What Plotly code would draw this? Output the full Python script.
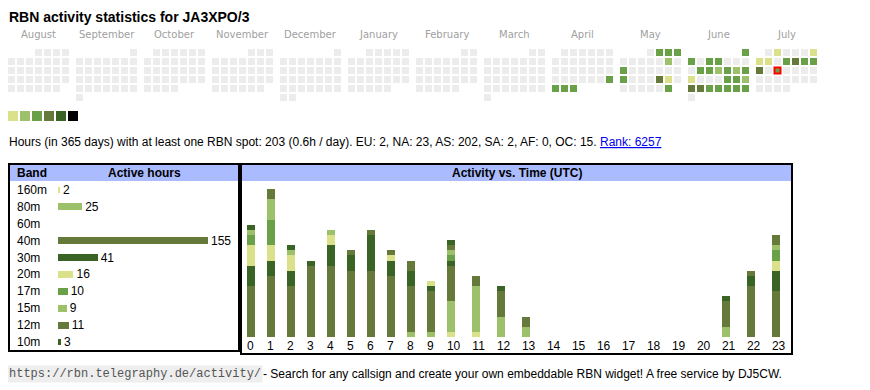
import datetime as dt
import plotly.graph_objects as go

W, H = 870, 390
OFF = 8  # page body margin in the browser

title = "RBN activity statistics for JA3XPO/3"
months = ["August", "September", "October", "November", "December", "January",
          "February", "March", "April", "May", "June", "July"]
first_month = dt.date(2024, 8, 1)
today = dt.date(2025, 7, 16)

palette = ["#dbe18b", "#9dc16a", "#69a048", "#657a3a", "#3a6426", "#000000"]
empty_color = "#ececec"

active_dates = ["2025-04-27", "2025-04-28", "2025-04-29", "2025-04-30",
                "2025-05-02", "2025-05-03", "2025-05-04", "2025-05-10", "2025-05-12",
                "2025-05-19", "2025-05-23", "2025-05-24", "2025-05-31",
                "2025-06-01", "2025-06-02", "2025-06-04", "2025-06-05", "2025-06-10",
                "2025-06-11", "2025-06-12", "2025-06-13", "2025-06-14", "2025-06-15",
                "2025-06-16", "2025-06-20", "2025-06-21", "2025-06-22", "2025-06-23",
                "2025-06-24", "2025-06-25", "2025-06-26", "2025-06-27", "2025-06-28",
                "2025-06-29",
                "2025-07-02", "2025-07-06", "2025-07-07", "2025-07-08", "2025-07-10",
                "2025-07-11", "2025-07-12", "2025-07-13", "2025-07-14", "2025-07-16"]
active_levels = [2, 2, 2, 2,
                 2, 2, 2, 1, 2,
                 2, 3, 0, 2,
                 2, 2, 2, 2, 2,
                 2, 1, 2, 1, 2,
                 0, 2, 2, 1, 3,
                 3, 2, 2, 2, 2,
                 2,
                 0, 0, 0, 0, 2,
                 3, 2, 2, 3, 2]

summary = ("Hours (in 365 days) with at least one RBN spot: 203 (0.6h / day). "
           "EU: 2, NA: 23, AS: 202, SA: 2, AF: 0, OC: 15. ")
rank_text = "Rank: 6257"

bands = ["160m", "80m", "60m", "40m", "30m", "20m", "17m", "15m", "12m", "10m"]
band_hours = [2, 25, 0, 155, 41, 16, 10, 9, 11, 3]
band_colors = [palette[0], palette[1], palette[2], palette[3], palette[4],
               palette[0], palette[2], palette[1], palette[3], palette[4]]

hour_labels = [str(h) for h in range(24)]
act_160m = [0, 0, 0, 0, 0, 0, 0, 0, 0, 0, 1, 1, 0, 0, 0, 0, 0, 0, 0, 0, 0, 0, 0, 0]
act_80m = [0, 0, 0, 0, 0, 0, 0, 0, 1, 1, 6, 9, 4, 2, 0, 0, 0, 0, 0, 0, 0, 2, 0, 0]
act_60m = [0] * 24
act_40m = [10, 12, 10, 14, 14, 13, 13, 12, 9, 8, 7, 2, 5, 2, 0, 0, 0, 0, 0, 0, 0, 5, 10, 9]
act_30m = [4, 3, 3, 1, 4, 3, 7, 3, 3, 1, 1, 0, 1, 0, 0, 0, 0, 0, 0, 0, 0, 1, 2, 4]
act_20m = [4, 3, 3, 0, 2, 0, 0, 1, 0, 1, 0, 0, 0, 0, 0, 0, 0, 0, 0, 0, 0, 0, 0, 2]
act_17m = [2, 5, 0, 0, 0, 0, 0, 0, 0, 0, 1, 0, 0, 0, 0, 0, 0, 0, 0, 0, 0, 0, 0, 2]
act_15m = [1, 4, 1, 0, 1, 0, 0, 0, 0, 0, 1, 0, 0, 0, 0, 0, 0, 0, 0, 0, 0, 0, 0, 1]
act_12m = [0, 2, 0, 0, 0, 1, 1, 1, 2, 0, 1, 0, 0, 0, 0, 0, 0, 0, 0, 0, 0, 0, 1, 2]
act_10m = [1, 0, 1, 0, 0, 0, 0, 0, 0, 0, 1, 0, 0, 0, 0, 0, 0, 0, 0, 0, 0, 0, 0, 0]
activity = [act_160m, act_80m, act_60m, act_40m, act_30m,
            act_20m, act_17m, act_15m, act_12m, act_10m]

footer_url = "https://rbn.telegraphy.de/activity/"
footer_text = "- Search for any callsign and create your own embeddable RBN widget! A free service by DJ5CW."

SANS = "Liberation Sans, Arial, sans-serif"


def fx(px):
    return (px - OFF) / W


def fy(py):
    return 1 - (py - OFF) / H


fig = go.Figure()

# ---------------- calendar (pixel axis x/y, page pixel coordinates) ----------------
CELL = 9
BLOCK = 68
X0, Y0 = 11.5, 52.5


def month_start(i):
    y = first_month.year + (first_month.month - 1 + i) // 12
    m = (first_month.month - 1 + i) % 12 + 1
    return dt.date(y, m, 1)


def cell_pos(d):
    for i in range(12):
        ms = month_start(i)
        if ms.year == d.year and ms.month == d.month:
            idx = ms.weekday() + d.day - 1
            return X0 + i * BLOCK + (idx % 7) * CELL, Y0 + (idx // 7) * CELL
    return None


all_x, all_y = [], []
for i in range(12):
    ms = month_start(i)
    nxt = month_start(i + 1)
    d = ms
    while d < nxt:
        x, y = cell_pos(d)
        all_x.append(x)
        all_y.append(y)
        d += dt.timedelta(days=1)

fig.add_trace(go.Scatter(x=all_x, y=all_y, mode="markers", xaxis="x", yaxis="y",
                         marker=dict(symbol="square", size=7, color=empty_color, line=dict(width=0)),
                         hoverinfo="skip", showlegend=False))

ax, ay, ac = [], [], []
for ds, lv in zip(active_dates, active_levels):
    d = dt.date.fromisoformat(ds)
    if d == today:
        continue
    x, y = cell_pos(d)
    ax.append(x)
    ay.append(y)
    ac.append(palette[lv])
fig.add_trace(go.Scatter(x=ax, y=ay, mode="markers", xaxis="x", yaxis="y",
                         marker=dict(symbol="square", size=7, color=ac, line=dict(width=0)),
                         hoverinfo="skip", showlegend=False))

tx, ty = cell_pos(today)
today_level = active_levels[active_dates.index(today.isoformat())]
fig.add_trace(go.Scatter(x=[tx], y=[ty], mode="markers", xaxis="x", yaxis="y",
                         marker=dict(symbol="square", size=6, color=palette[today_level],
                                     line=dict(width=2, color="#ff0000")),
                         hoverinfo="skip", showlegend=False))

# legend swatches
fig.add_trace(go.Scatter(x=[13 + 12 * k for k in range(len(palette))], y=[116] * len(palette),
                         mode="markers", xaxis="x", yaxis="y",
                         marker=dict(symbol="square", size=10, color=palette, line=dict(width=0)),
                         hoverinfo="skip", showlegend=False))

annotations = []


def page_text(x, y, text, size, color="#000", family=SANS, xanchor="left", **kw):
    annotations.append(dict(x=fx(x), y=fy(y), xref="paper", yref="paper", text=text,
                            showarrow=False, xanchor=xanchor, yanchor="middle",
                            font=dict(family=family, size=size, color=color), **kw))


page_text(6.5, 16.5, "<b>" + title + "</b>", 14)
for i, m in enumerate(months):
    page_text(X0 + i * BLOCK + 3 * CELL, 35, m, 10, color="#a0a0a0",
              family="DejaVu Sans, sans-serif", xanchor="center")

page_text(6.5, 142, summary + "<a href='https://rbn.telegraphy.de/activity/'>"
          "<span style='color:#0000ee'><u>" + rank_text + "</u></span></a>", 12)

# footer
page_text(7, 374, footer_url, 12, color="#555", family="Liberation Mono, monospace",
          bgcolor="#eeeeee", borderpad=1)
page_text(261, 374, footer_text, 12)

# ---------------- panels ----------------
shapes = []
shapes.append(dict(type="rect", xref="x", yref="y", x0=10, x1=238, y0=165, y1=181,
                   fillcolor="#aabbff", line=dict(width=0), layer="below"))
shapes.append(dict(type="rect", xref="x", yref="y", x0=242, x1=791, y0=165, y1=181,
                   fillcolor="#aabbff", line=dict(width=0), layer="below"))
shapes.append(dict(type="rect", xref="x", yref="y", x0=9, x1=239, y0=164, y1=351,
                   fillcolor="rgba(0,0,0,0)", line=dict(width=2, color="#000")))
shapes.append(dict(type="rect", xref="x", yref="y", x0=241, x1=792, y0=164, y1=354,
                   fillcolor="rgba(0,0,0,0)", line=dict(width=2, color="#000")))

page_text(15, 173, "<b>Band</b>", 12)
page_text(144.5, 173, "<b>Active hours</b>", 12, xanchor="center")
page_text(516.5, 173, "<b>Activity vs. Time (UTC)</b>", 12, xanchor="center")

# ---------------- band bars (x2/y2) ----------------
PX_PER_HOUR = 150 / max(band_hours)
BAR_X0, BAR_X1 = 58, 238
fig.add_trace(go.Bar(y=bands, x=band_hours, orientation="h", xaxis="x2", yaxis="y2",
                     marker=dict(color=band_colors, line=dict(width=0)),
                     text=[str(v) if v else "" for v in band_hours], textposition="outside",
                     constraintext="none",
                     textfont=dict(family=SANS, size=12, color="#000"), cliponaxis=False,
                     hoverinfo="skip", showlegend=False))
for b in bands:
    annotations.append(dict(x=fx(15), y=b, xref="paper", yref="y2", text=b, showarrow=False,
                            xanchor="left", yanchor="middle",
                            font=dict(family=SANS, size=12, color="#000")))

# ---------------- activity vs time (x3/y3) ----------------
BAR_W = 8
lefts = []
pos = 247
for lab in hour_labels:
    lefts.append(pos)
    pos += 12 + max(BAR_W, 6.5 * len(lab))
centers = [l + BAR_W / 2 for l in lefts]
label_pos = [l + 3.3 * len(lab) for l, lab in zip(lefts, hour_labels)]

for b, col, vals in zip(bands, band_colors, activity):
    fig.add_trace(go.Bar(x=centers, y=vals, width=BAR_W, xaxis="x3", yaxis="y3",
                         marker=dict(color=col, line=dict(width=0)),
                         hoverinfo="skip", showlegend=False, name=b))

PX_PER_SPOT = 5.1
PLOT_TOP, PLOT_BOTTOM = 182, 337

fig.update_layout(
    width=W, height=H, margin=dict(l=0, r=0, t=0, b=0),
    paper_bgcolor="#ffffff", plot_bgcolor="rgba(0,0,0,0)",
    barmode="stack", bargap=1 - 7 / 17,
    showlegend=False,
    xaxis=dict(domain=[0, 1], range=[OFF, W + OFF], visible=False, fixedrange=True),
    yaxis=dict(domain=[0, 1], range=[H + OFF, OFF], visible=False, fixedrange=True),
    xaxis2=dict(domain=[fx(BAR_X0), fx(BAR_X1)], range=[0, (BAR_X1 - BAR_X0) / PX_PER_HOUR],
                anchor="y2", visible=False, fixedrange=True),
    yaxis2=dict(domain=[fy(351), fy(181)], anchor="x2", type="category",
                categoryorder="array", categoryarray=bands, autorange="reversed",
                visible=False, fixedrange=True),
    xaxis3=dict(domain=[fx(242), fx(791)], range=[242, 791], anchor="y3",
                tickmode="array", tickvals=label_pos, ticktext=hour_labels,
                showgrid=False, zeroline=False, showline=False, ticks="",
                tickfont=dict(family=SANS, size=12, color="#000"), fixedrange=True),
    yaxis3=dict(domain=[fy(PLOT_BOTTOM), fy(PLOT_TOP)], anchor="x3",
                range=[0, (PLOT_BOTTOM - PLOT_TOP) / PX_PER_SPOT],
                visible=False, fixedrange=True),
    shapes=shapes,
    annotations=annotations,
)

fig.write_html("out.html")
